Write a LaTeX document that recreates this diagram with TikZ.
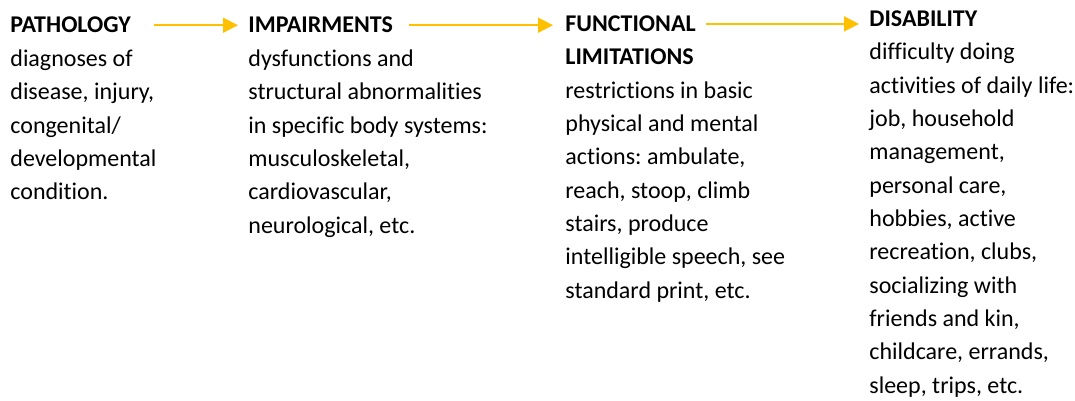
\documentclass[tikz,border=0pt]{standalone}
\usepackage{fontspec}
\setmainfont{Carlito}[Ligatures=NoCommon]
\usetikzlibrary{arrows.meta}
\definecolor{flowgold}{HTML}{FFC000}
\newcommand{\colfont}{\fontsize{12}{16.67}\selectfont}
\tikzset{
  head/.style={anchor=base west, inner sep=0pt, font=\colfont\bfseries},
  body/.style={anchor=base west, inner sep=0pt, align=left, font=\colfont},
  flow/.style={draw=flowgold, line width=0.8pt, -{Triangle[length=7.5pt,width=7.5pt]}}
}
\frenchspacing
\begin{document}
\begin{tikzpicture}[x=0.5pt, y=-0.5pt]
\useasboundingbox (0,0) rectangle (1075,401);
% pathology (body nodes sit on the baseline of their last line)
\node[head] (patho) at (10,33) {PATHOLOGY};
\node[body] (pathotxt) at (10,199.8) {diagnoses of\\disease, injury,\\congenital/\\developmental\\condition.};
% impairments
\node[head] (impair) at (248,33) {IMPAIRMENTS};
\node[body] (impairtxt) at (248,233.2) {dysfunctions and\\structural abnormalities\\in specific body systems:\\musculoskeletal,\\cardiovascular,\\neurological, etc.};
% functional limitations
\node[head] (func) at (565,31.7) {FUNCTIONAL};
\node[body] (functxt) at (565,298.3) {\textbf{LIMITATIONS}\\restrictions in basic\\physical and mental\\actions: ambulate,\\reach, stoop, climb\\stairs, produce\\intelligible speech, see\\standard print, etc.};
% disability
\node[head] (dis) at (869,26.7) {DISABILITY};
\node[body] (distxt) at (869,393.3) {difficulty doing\\activities of daily life:\\job, household\\management,\\personal care,\\hobbies, active\\recreation, clubs,\\socializing with\\friends and kin,\\childcare, errands,\\sleep, trips, etc.};
% arrows
\draw[flow, shorten <=11.5pt, shorten >=5pt] (patho.east) -- (patho.east -| impair.west);
\draw[flow, shorten <=8pt, shorten >=6pt] (impair.east) -- (impair.east -| func.west);
\draw[flow, shorten <=5pt, shorten >=5pt] (func.east) -- (func.east -| dis.west);
\end{tikzpicture}
\end{document}
